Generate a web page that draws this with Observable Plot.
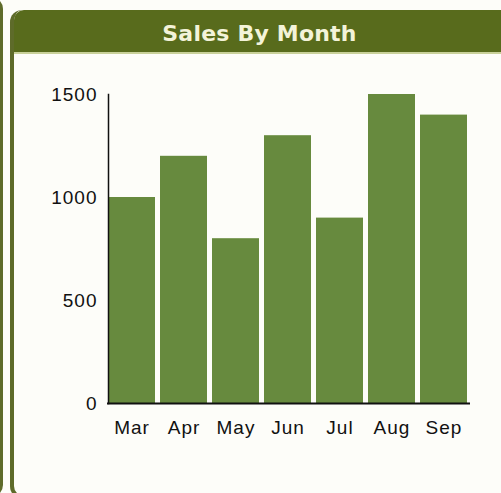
<!DOCTYPE html>
<html>
<head>
<meta charset="utf-8">
<script src="https://cdn.jsdelivr.net/npm/d3@7"></script>
<script src="https://cdn.jsdelivr.net/npm/@observablehq/plot@0.6"></script>
<style>
  html, body { margin: 0; padding: 0; width: 501px; height: 493px; overflow: hidden; background: #fdfdf9; }
  #prev { position: absolute; box-sizing: border-box; left: -30px; top: -3px; width: 33px; height: 500px;
          border: 3px solid #5e6b2a; border-left: none; border-radius: 0 12px 12px 0; }
  #panel { position: absolute; box-sizing: border-box; left: 10px; top: 10px; width: 560px; height: 490px;
           border-left: 4px solid #5e6b2a; border-bottom: 4px solid #5e6b2a; border-radius: 12px 0 0 14px;
           background: #fdfdf9; }
  #header { position: absolute; left: 0; top: 0; width: 100%; height: 42px; background: #586b1c;
            border-top-left-radius: 10px; border-bottom: 2px solid #c9d19a; }
  #title { position: absolute; left: 0; width: 491px; top: 11px; text-align: center;
           font-family: "DejaVu Sans", Verdana, sans-serif; font-weight: bold; font-size: 22px;
           letter-spacing: 0.2px; color: #f3f3d9; line-height: 26px; }
  #chart { position: absolute; left: 0; top: 60px; }
</style>
</head>
<body>
<div id="prev"></div>
<div id="panel">
  <div id="header"><div id="title">Sales By Month</div></div>
</div>
<div id="chart"></div>
<script>
const months = ["Mar", "Apr", "May", "Jun", "Jul", "Aug", "Sep"];
const sales = [1000, 1200, 800, 1300, 900, 1500, 1400];
const yTicks = [0, 500, 1000, 1500];

const data = months.map((m, i) => ({month: m, sales: sales[i]}));

const chart = Plot.plot({
  width: 501,
  height: 380,
  marginLeft: 108,
  marginRight: 34,
  marginTop: 34,
  marginBottom: 37,
  style: {
    fontFamily: "'Liberation Sans', Arial, sans-serif",
    fontSize: "19px",
    letterSpacing: "1px",
    color: "#111",
    background: "transparent"
  },
  x: {domain: months, paddingInner: 0.1, paddingOuter: 0, label: null},
  y: {domain: [0, 1500], label: null},
  marks: [
    Plot.barY(data, {x: "month", y: "sales", fill: "#678a3e"}),
    Plot.axisY({ticks: yTicks, tickFormat: d => String(d), tickSize: 0, tickPadding: 11, label: null}),
    Plot.axisX({tickSize: 0, tickPadding: 17, label: null}),
    Plot.frame({anchor: "left", stroke: "#111", strokeWidth: 1.5}),
    Plot.ruleY([0], {stroke: "#111", strokeWidth: 2, insetLeft: -1, insetRight: -3})
  ]
});
document.getElementById("chart").appendChild(chart);
</script>
</body>
</html>
